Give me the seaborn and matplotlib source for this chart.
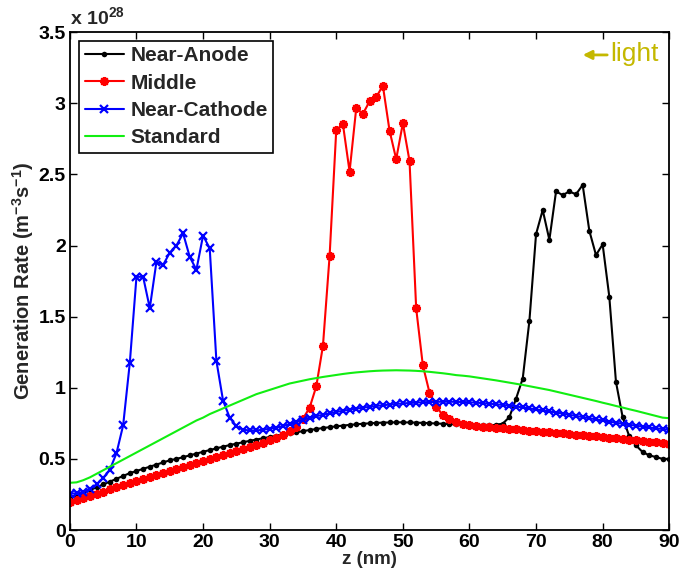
import numpy as np
import pandas as pd
import matplotlib
matplotlib.use("Agg")
import matplotlib.pyplot as plt
import seaborn as sns
from matplotlib.ticker import FormatStrFormatter

sns.set_style("ticks")
plt.rcParams["font.family"] = ["Liberation Sans", "DejaVu Sans"]
plt.rcParams["font.weight"] = "bold"
plt.rcParams["mathtext.fontset"] = "custom"
plt.rcParams["mathtext.bf"] = "Liberation Sans:bold"
plt.rcParams["mathtext.rm"] = "Liberation Sans:bold"
plt.rcParams["mathtext.default"] = "bf"

# z positions (nm), one point per nm
z = list(range(0, 91))

# generation rate in units of 1e28 m^-3 s^-1
near_anode = [
    0.23, 0.245, 0.26, 0.28, 0.30, 0.32, 0.34, 0.36, 0.38, 0.40,
    0.415, 0.43, 0.445, 0.46, 0.475, 0.49, 0.50, 0.512, 0.525, 0.537,
    0.55, 0.562, 0.574, 0.586, 0.597, 0.607, 0.617, 0.627, 0.636, 0.645,
    0.654, 0.663, 0.671, 0.679, 0.687, 0.695, 0.703, 0.71, 0.717, 0.723,
    0.729, 0.734, 0.739, 0.743, 0.747, 0.75, 0.753, 0.755, 0.756, 0.757,
    0.757, 0.756, 0.755, 0.753, 0.751, 0.749, 0.747, 0.745, 0.743, 0.741,
    0.739, 0.737, 0.735, 0.735, 0.74, 0.748, 0.794, 0.924, 1.065, 1.47,
    2.08, 2.25, 2.04, 2.38, 2.355, 2.38, 2.36, 2.426, 2.104, 1.933,
    2.008, 1.64, 1.041, 0.794, 0.658, 0.595, 0.548, 0.525, 0.513, 0.5, 0.5,
]

middle = [
    0.2, 0.213, 0.227, 0.241, 0.256, 0.27, 0.285, 0.3, 0.315, 0.33,
    0.345, 0.36, 0.375, 0.39, 0.404, 0.418, 0.432, 0.446, 0.46, 0.474,
    0.487, 0.5, 0.513, 0.526, 0.54, 0.555, 0.57, 0.585, 0.6, 0.615,
    0.63, 0.648, 0.668, 0.693, 0.724, 0.783, 0.86, 1.01, 1.294, 1.926,
    2.813, 2.853, 2.52, 2.966, 2.926, 3.013, 3.044, 3.123, 2.808, 2.607,
    2.86, 2.595, 1.558, 1.158, 0.966, 0.865, 0.81, 0.78, 0.76, 0.745,
    0.737, 0.732, 0.727, 0.723, 0.719, 0.715, 0.711, 0.707, 0.703, 0.699,
    0.695, 0.691, 0.687, 0.683, 0.679, 0.675, 0.671, 0.667, 0.663, 0.658,
    0.654, 0.65, 0.645, 0.641, 0.636, 0.631, 0.626, 0.621, 0.616, 0.611, 0.606,
]

near_cathode = [
    0.255, 0.258, 0.268, 0.29, 0.32, 0.365, 0.424, 0.54, 0.736, 1.175,
    1.78, 1.78, 1.56, 1.886, 1.863, 1.95, 2.0, 2.086, 1.92, 1.83,
    2.07, 1.98, 1.19, 0.91, 0.79, 0.73, 0.705, 0.70, 0.70, 0.705,
    0.712, 0.72, 0.73, 0.745, 0.76, 0.775, 0.79, 0.80, 0.81, 0.82,
    0.83, 0.838, 0.846, 0.853, 0.86, 0.866, 0.872, 0.877, 0.882, 0.886,
    0.89, 0.893, 0.896, 0.898, 0.9, 0.901, 0.902, 0.902, 0.901, 0.9,
    0.898, 0.895, 0.892, 0.888, 0.884, 0.879, 0.874, 0.868, 0.862, 0.855,
    0.848, 0.841, 0.834, 0.826, 0.818, 0.81, 0.802, 0.794, 0.786, 0.778,
    0.77, 0.762, 0.754, 0.747, 0.74, 0.733, 0.727, 0.721, 0.715, 0.71, 0.705,
]

standard = [
    0.332, 0.335, 0.35, 0.37, 0.395, 0.42, 0.445, 0.47, 0.495, 0.52,
    0.545, 0.57, 0.595, 0.62, 0.645, 0.67, 0.695, 0.72, 0.745, 0.77,
    0.79, 0.815, 0.835, 0.855, 0.875, 0.895, 0.915, 0.935, 0.955, 0.97,
    0.985, 1.0, 1.015, 1.03, 1.04, 1.05, 1.06, 1.068, 1.076, 1.083,
    1.09, 1.097, 1.103, 1.108, 1.112, 1.116, 1.119, 1.121, 1.122, 1.123,
    1.122, 1.121, 1.119, 1.116, 1.112, 1.107, 1.102, 1.096, 1.089, 1.085,
    1.08, 1.073, 1.066, 1.059, 1.052, 1.044, 1.036, 1.028, 1.02, 1.011,
    1.002, 0.993, 0.984, 0.973, 0.962, 0.951, 0.94, 0.929, 0.918, 0.907,
    0.895, 0.884, 0.872, 0.861, 0.849, 0.838, 0.826, 0.814, 0.802, 0.79, 0.786,
]

light_color = "#c4b800"

fig = plt.figure(figsize=(6.85, 5.85), dpi=100)
ax = fig.add_axes([0.102, 0.094, 0.875, 0.851])

sns.lineplot(x=z, y=near_anode, ax=ax, color="black", lw=1.5, marker="o",
             markersize=4, markeredgewidth=0, label="Near-Anode")
sns.lineplot(x=z, y=middle, ax=ax, color="#ff0000", lw=1.5, marker=(8, 2, 0),
             markersize=6.5, markeredgewidth=1.6, markeredgecolor="#ff0000",
             label="Middle")
sns.lineplot(x=z, y=near_cathode, ax=ax, color="#0000ff", lw=1.5, marker="x",
             markersize=5.5, markeredgewidth=1.6, markeredgecolor="#0000ff",
             label="Near-Cathode")
sns.lineplot(x=z, y=standard, ax=ax, color="#11ee11", lw=1.5, label="Standard")

ax.set_xlim(0, 90)
ax.set_ylim(0, 3.5)
ax.set_xticks(range(0, 91, 10))
ax.set_yticks(np.arange(0, 3.51, 0.5))
ax.yaxis.set_major_formatter(FormatStrFormatter("%g"))
ax.tick_params(direction="in", top=True, right=True, length=5, width=1,
               labelsize=14, colors="black", pad=3)
for lbl in ax.get_xticklabels() + ax.get_yticklabels():
    lbl.set_fontweight("bold")
for s in ax.spines.values():
    s.set_linewidth(1.3)
    s.set_color("black")

ax.set_xlabel("z (nm)", fontsize=13.5, fontweight="bold", labelpad=0)
ax.set_ylabel("Generation Rate (m$^{-3}$s$^{-1}$)", fontsize=14.5,
              fontweight="bold", labelpad=2)

ax.text(0.0, 1.008, r"x 10$^{28}$", transform=ax.transAxes, fontsize=14,
        fontweight="bold", ha="left", va="bottom")

leg = ax.legend(loc="upper left", bbox_to_anchor=(0.016, 0.982), fontsize=15,
                frameon=True, fancybox=False, framealpha=1, edgecolor="black",
                borderpad=0.25, labelspacing=0.4, handlelength=1.9,
                handletextpad=0.3, borderaxespad=0)
leg.get_frame().set_linewidth(1.2)
for t in leg.get_texts():
    t.set_fontweight("bold")

ax.annotate("", xy=(76.6, 3.34), xytext=(81.1, 3.34), xycoords="data",
            arrowprops=dict(arrowstyle="-|>", color=light_color, lw=2,
                            mutation_scale=13))
ax.text(81.2, 3.35, "light", color=light_color, fontsize=19,
        fontweight="normal", ha="left", va="center")

fig.savefig("out.png", dpi=100)
